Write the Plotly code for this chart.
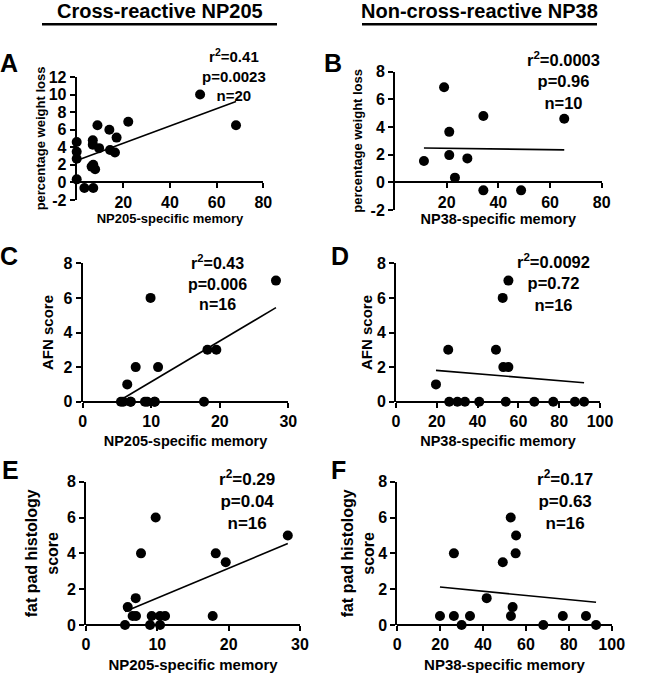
import numpy as np
import plotly.graph_objects as go

W, H = 646, 678
FONT = "Liberation Sans, Arial, Helvetica, sans-serif"

# ---------------- data ----------------
# A: NP205-specific memory vs percentage weight loss
a_x = [0, 0, 0, 0, 3.3, 7.1, 6.9, 6.9, 6.4, 7.1, 7.9, 8.9, 9.6, 14.0, 14.3, 16.4, 17.1, 22.1, 52.9, 68.3]
a_y = [4.6, 3.5, 2.7, 0.35, -0.64, -0.64, 4.8, 4.3, 1.8, 2.0, 1.5, 6.5, 3.9, 6.0, 3.7, 3.4, 5.1, 6.9, 10.0, 6.5]
# B: NP38-specific memory vs percentage weight loss
b_x = [11.2, 19.0, 21.0, 21.0, 23.2, 28.0, 34.2, 34.2, 48.8, 65.5]
b_y = [1.54, 6.88, 3.65, 1.97, 0.34, 1.73, 4.8, -0.58, -0.58, 4.6]
# C: NP205-specific memory vs AFN score
c_x = [5.58, 5.92, 6.5, 7.0, 7.0, 7.73, 9.08, 9.42, 9.9, 10.5, 10.5, 11.0, 17.7, 18.2, 19.5, 28.2]
c_y = [0, 0, 1, 0, 0, 2, 0, 0, 6, 0, 0, 2, 0, 3, 3, 7]
# D: NP38-specific memory vs AFN score
d_x = [19.6, 25.6, 26.1, 30.1, 33.8, 40.8, 49.0, 52.3, 52.6, 55.1, 55.1, 53.8, 67.8, 77.1, 87.7, 92.2]
d_y = [1, 3, 0, 0, 0, 0, 3, 6, 2, 7, 2, 0, 0, 0, 0, 0]
# E: NP205-specific memory vs fat pad histology score
e_x = [5.47, 8.98, 10.38, 6.54, 7.01, 9.21, 10.38, 11.08, 17.76, 5.85, 6.97, 7.71, 9.77, 18.19, 19.59, 28.29]
e_y = [0, 0, 0, 0.5, 0.5, 0.5, 0.5, 0.5, 0.5, 1.0, 1.5, 4.0, 6.0, 4.0, 3.5, 5.0]
# F: NP38-specific memory vs fat pad histology score
f_x = [19.9, 26.4, 33.9, 53.0, 77.2, 88.0, 30.0, 68.1, 92.7, 26.4, 41.7, 49.2, 52.9, 53.8, 55.4, 55.2]
f_y = [0.5, 0.5, 0.5, 0.5, 0.5, 0.5, 0, 0, 0, 4.0, 1.5, 3.5, 6.0, 1.0, 5.0, 4.0]

stats = ["r<sup>2</sup>=0.41<br>p=0.0023<br>n=20",
         "r<sup>2</sup>=0.0003<br>p=0.96<br>n=10",
         "r<sup>2</sup>=0.43<br>p=0.006<br>n=16",
         "r<sup>2</sup>=0.0092<br>p=0.72<br>n=16",
         "r<sup>2</sup>=0.29<br>p=0.04<br>n=16",
         "r<sup>2</sup>=0.17<br>p=0.63<br>n=16"]
letters = ["A", "B", "C", "D", "E", "F"]
x_titles = ["NP205-specific memory", "NP38-specific memory"] * 3
y_titles = ["percentage weight loss", "percentage weight loss",
            "AFN score", "AFN score",
            "fat pad histology<br>score", "fat pad histology<br>score"]
headers = ["Cross-reactive NP205", "Non-cross-reactive NP38"]

# ---------------- layout specs (pixel boxes) ----------------
panels = [
    dict(x=a_x, y=a_y, box=(76.7, 263.3, 77, 200), xr=[0, 80], yr=[-2, 12], xt=[20, 40, 60, 80], yt=list(range(-2, 13, 2)),
         stat=(234, 75, 15), let=(9, 63), xtf=13, ytf=13, xs=0, ys=0),
    dict(x=b_x, y=b_y, box=(395, 601.7, 71.7, 210), xr=[0, 80], yr=[-2, 8], xt=[20, 40, 60, 80], yt=list(range(-2, 9, 2)),
         stat=(563, 80, 16.5), let=(333, 63), xtf=14.5, ytf=13, xs=2, ys=5),
    dict(x=c_x, y=c_y, box=(82.7, 288.3, 263.3, 401.7), xr=[0, 30], yr=[0, 8], xt=[0, 10, 20, 30], yt=[0, 2, 4, 6, 8],
         stat=(217, 283, 16), let=(9, 256), xtf=14.5, ytf=15, xs=6, ys=6),
    dict(x=d_x, y=d_y, box=(396, 600, 263.3, 401.7), xr=[0, 100], yr=[0, 8], xt=[0, 20, 40, 60, 80, 100], yt=[0, 2, 4, 6, 8],
         stat=(553, 283, 16.5), let=(340, 256), xtf=14.5, ytf=15, xs=6, ys=1),
    dict(x=e_x, y=e_y, box=(86, 300, 481.7, 625), xr=[0, 30], yr=[0, 8], xt=[0, 10, 20, 30], yt=[0, 2, 4, 6, 8],
         stat=(247, 500, 17), let=(10, 470), xtf=15, ytf=16, xs=6, ys=4),
    dict(x=f_x, y=f_y, box=(397.3, 611.7, 481.7, 625), xr=[0, 100], yr=[0, 8], xt=[0, 20, 40, 60, 80, 100], yt=[0, 2, 4, 6, 8],
         stat=(565, 500, 17), let=(339, 470), xtf=15, ytf=16, xs=6, ys=0),
]


def px(xp):
    return xp / W


def py(yp):
    return 1 - yp / H


def bold(s):
    return "<b>" + s.replace("<br>", "</b><br><b>") + "</b>"


fig = go.Figure()
annotations = []
shapes = []

for i, p in enumerate(panels):
    n = i + 1
    xa = "x" if n == 1 else f"x{n}"
    ya = "y" if n == 1 else f"y{n}"
    xk = "xaxis" if n == 1 else f"xaxis{n}"
    yk = "yaxis" if n == 1 else f"yaxis{n}"
    x = np.array(p["x"], dtype=float)
    y = np.array(p["y"], dtype=float)

    fig.add_trace(go.Scatter(x=x, y=y, mode="markers", xaxis=xa, yaxis=ya,
                             marker=dict(color="black", size=10), cliponaxis=False,
                             showlegend=False))
    slope, icpt = np.polyfit(x, y, 1)
    lx = np.array([x.min(), x.max()])
    fig.add_trace(go.Scatter(x=lx, y=slope * lx + icpt, mode="lines", xaxis=xa, yaxis=ya,
                             line=dict(color="black", width=1.6), cliponaxis=False,
                             showlegend=False))

    x0, x1, y0, y1 = p["box"]
    ydom = [py(y1), py(y0)]
    xdom = [px(x0), px(x1)]
    ymin, ymax = p["yr"]
    xpos = ydom[0] + (0 - ymin) / (ymax - ymin) * (ydom[1] - ydom[0])

    axis_common = dict(showline=True, linecolor="black", linewidth=2, ticks="outside",
                       ticklen=5, tickwidth=2, tickcolor="black", showgrid=False,
                       zeroline=False, automargin=False,
                       tickfont=dict(size=16, color="black", family=FONT))
    fig.update_layout(**{
        xk: dict(domain=xdom, range=p["xr"], tickvals=p["xt"],
                 ticktext=[bold(str(v)) for v in p["xt"]],
                 anchor="free", position=xpos,
                 title=dict(text=bold(x_titles[i]), standoff=p["xs"],
                            font=dict(size=p["xtf"], color="black", family=FONT)),
                 **axis_common),
        yk: dict(domain=ydom, range=p["yr"], tickvals=p["yt"],
                 ticktext=[bold(str(v)) for v in p["yt"]], anchor=xa,
                 title=dict(text=bold(y_titles[i]), standoff=p["ys"],
                            font=dict(size=p["ytf"], color="black", family=FONT)),
                 **axis_common),
    })

    sx, sy, sf = p["stat"]
    annotations.append(dict(x=px(sx), y=py(sy), xref="paper", yref="paper", text=bold(stats[i]),
                            showarrow=False, align="center", xanchor="center", yanchor="middle",
                            font=dict(size=sf, color="black", family=FONT)))
    lx_, ly_ = p["let"]
    annotations.append(dict(x=px(lx_), y=py(ly_), xref="paper", yref="paper", text=bold(letters[i]),
                            showarrow=False, xanchor="center", yanchor="middle",
                            font=dict(size=25, color="black", family=FONT)))

# column headers with underline
for hx, (lx0, lx1), txt in [(160, (42, 277), headers[0]), (479, (362, 597), headers[1])]:
    annotations.append(dict(x=px(hx), y=py(11), xref="paper", yref="paper", text=bold(txt),
                            showarrow=False, xanchor="center", yanchor="middle",
                            font=dict(size=20, color="black", family=FONT)))
    shapes.append(dict(type="line", xref="paper", yref="paper", x0=px(lx0), x1=px(lx1),
                       y0=py(24.3), y1=py(24.3), line=dict(color="black", width=2.5)))

fig.update_layout(width=W, height=H, margin=dict(l=0, r=0, t=0, b=0, autoexpand=False),
                  paper_bgcolor="white", plot_bgcolor="white",
                  font=dict(family=FONT, color="black"),
                  annotations=annotations, shapes=shapes, showlegend=False)

fig.write_html("out.html", config={"displayModeBar": False},
               post_script="document.body.style.margin='0px';document.body.style.overflow='hidden';")
